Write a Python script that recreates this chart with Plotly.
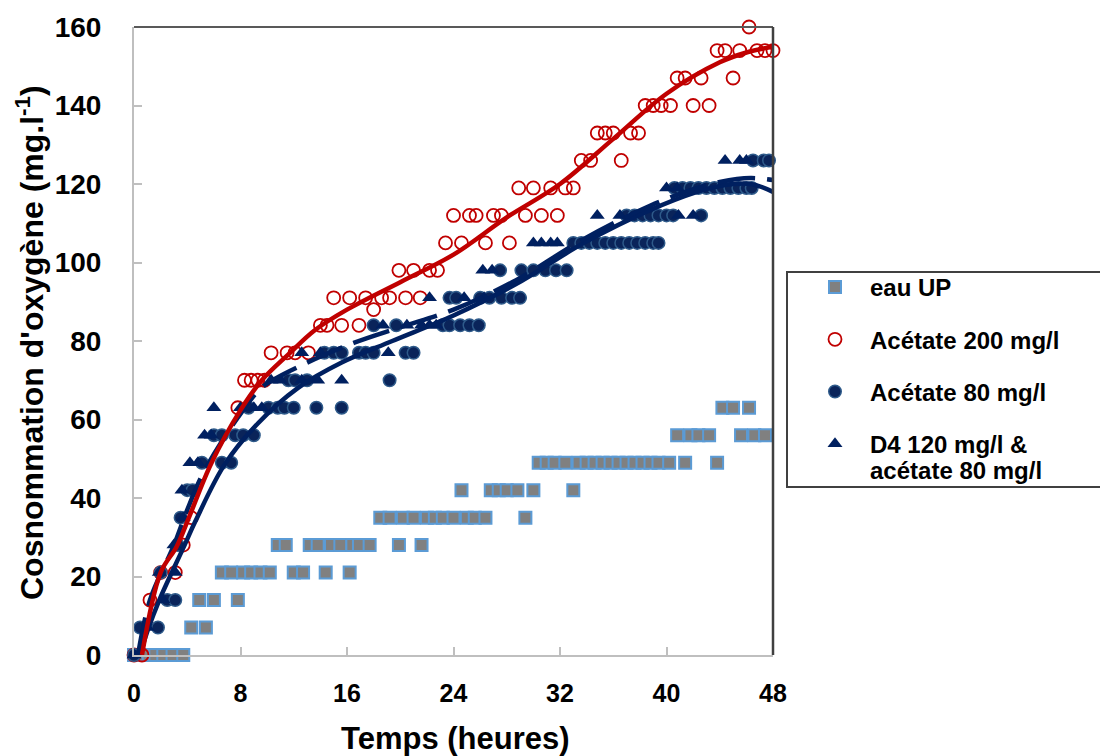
import plotly.graph_objects as go

# ---------------- data ----------------
eau_t = [0, 0.6, 1.1, 1.6, 2.2, 2.9, 3.7,
         4.3, 5.4,
         4.9, 6.0, 7.8,
         6.6, 7.3, 8.2, 8.8, 9.5, 10.2, 12.0, 12.7, 14.4, 16.2,
         10.8, 11.4, 13.2, 13.8, 14.8, 15.5, 16.4, 16.9, 17.7, 19.9, 21.6,
         18.5, 19.2, 20.2, 21.0, 22.0, 22.6, 23.2, 24.0, 25.0, 25.6, 26.4, 29.4,
         24.6, 26.8, 27.4, 28.0, 28.8, 30.0, 33.0,
         30.4, 31.0, 31.6, 32.4, 33.4, 34.0, 34.6, 35.2, 35.8, 36.4, 37.0, 37.6, 38.2, 38.8, 39.4, 40.2, 41.4, 43.8,
         40.8, 41.8, 42.4, 43.2, 45.6, 46.6, 47.4,
         44.2, 45.0, 46.2]
eau_y = [0, 0, 0, 0, 0, 0, 0,
         7, 7,
         14, 14, 14,
         21, 21, 21, 21, 21, 21, 21, 21, 21, 21,
         28, 28, 28, 28, 28, 28, 28, 28, 28, 28, 28,
         35, 35, 35, 35, 35, 35, 35, 35, 35, 35, 35, 35,
         42, 42, 42, 42, 42, 42, 42,
         49, 49, 49, 49, 49, 49, 49, 49, 49, 49, 49, 49, 49, 49, 49, 49, 49, 49,
         56, 56, 56, 56, 56, 56, 56,
         63, 63, 63]

ac200_t = [0, 0.6, 1.2, 2.0, 3.1, 3.7, 4.3, 7.8,
           8.3, 8.8, 9.3, 9.8,
           10.3, 11.5, 12.1, 13.1,
           14.0, 14.5, 15.6, 16.9,
           15.0, 16.2, 17.4, 18.6, 19.2, 20.4, 21.5, 18.0,
           19.9, 21.0, 22.2, 22.8,
           23.4, 24.6, 26.4, 28.2,
           24.0, 25.2, 25.7, 27.0, 27.6, 29.4, 30.6, 31.8,
           28.9, 30.0, 31.3, 32.4, 33.0,
           33.6, 34.3, 36.6,
           34.8, 35.4, 36.0, 37.3, 37.9,
           38.4, 39.0, 39.6, 40.3, 42.0, 43.2,
           40.8, 41.4, 42.6, 45.0,
           43.8, 44.4, 45.5, 46.8, 47.4, 48.0,
           46.2]
ac200_y = [0, 0, 14, 21, 21, 28, 35, 63,
           70, 70, 70, 70,
           77, 77, 77, 77,
           84, 84, 84, 84,
           91, 91, 91, 91, 91, 91, 91, 88,
           98, 98, 98, 98,
           105, 105, 105, 105,
           112, 112, 112, 112, 112, 112, 112, 112,
           119, 119, 119, 119, 119,
           126, 126, 126,
           133, 133, 133, 133, 133,
           140, 140, 140, 140, 140, 140,
           147, 147, 147, 147,
           154, 154, 154, 154, 154, 154,
           160]

ac80_t = [0, 0.45, 1.8, 2.5, 3.1, 2.0, 3.3, 3.5, 4.0, 4.4,
          5.1, 6.6, 7.3,
          6.0, 6.6, 7.6, 8.2, 9.0,
          8.6, 10.1, 10.8, 11.3, 12.0, 13.7, 15.6,
          11.6, 12.1, 13.0, 19.2,
          14.3, 15.0, 15.6, 16.9, 17.4, 18.0, 20.4, 21.0,
          18.0, 19.7, 23.2, 23.7, 24.5, 25.2, 25.9,
          23.7, 24.2, 26.0, 26.7, 27.6, 28.4, 29.0,
          27.5, 29.1, 30.0, 30.9, 31.7, 32.5,
          33.0, 33.6, 34.2, 34.8, 35.4, 36.0, 36.6, 37.2, 37.8, 38.4, 39.0, 39.4,
          37.0, 37.6, 38.2, 38.8, 39.4, 40.0, 40.5, 42.6,
          40.6, 41.2, 41.8, 42.4, 43.0, 43.6, 44.2, 44.8, 45.4, 46.0, 46.4,
          46.5, 47.3, 47.7]
ac80_y = [0, 7, 7, 14, 14, 21, 28, 35, 42, 42,
          49, 49, 49,
          56, 56, 56, 56, 56,
          63, 63, 63, 63, 63, 63, 63,
          70, 70, 70, 70,
          77, 77, 77, 77, 77, 77, 77, 77,
          84, 84, 84, 84, 84, 84, 84,
          91, 91, 91, 91, 91, 91, 91,
          98, 98, 98, 98, 98, 98,
          105, 105, 105, 105, 105, 105, 105, 105, 105, 105, 105, 105,
          112, 112, 112, 112, 112, 112, 112, 112,
          119, 119, 119, 119, 119, 119, 119, 119, 119, 119, 119,
          126, 126, 126]

d4_t = [0, 1.0, 2.2, 1.9, 3.1, 3.0, 3.7, 3.6, 4.2, 4.8,
        5.3, 5.8, 6.0, 8.0, 9.0, 9.6,
        10.3, 11.0, 12.6, 13.8, 15.6,
        12.6, 14.0, 19.1,
        18.7, 20.5, 21.6, 22.2, 22.7,
        22.2, 24.8, 26.3,
        26.2, 26.9,
        30.0, 30.6, 31.3, 31.8,
        34.8, 36.5, 40.9, 42.0,
        40.0, 40.8,
        44.4, 45.5, 46.0]
d4_y = [0, 7, 14, 21, 21, 28, 35, 42, 49, 49,
        56, 56, 63, 63, 63, 63,
        70, 70, 70, 70, 70,
        77, 77, 77,
        84, 84, 84, 84, 84,
        91, 91, 91,
        98, 98,
        105, 105, 105, 105,
        112, 112, 112, 112,
        119, 119,
        126, 126, 126]

# fitted curves
fit200_t = [0.6, 2.0, 3.2, 4.1, 5.8, 8.0, 9.6, 11.6, 13.6, 16, 20, 24, 28, 32, 36, 40, 44, 46, 48]
fit200_y = [0, 21, 27.6, 34.8, 48.8, 62.4, 70, 76.6, 82.8, 88, 95, 102, 111.5, 120, 131.5, 143, 151, 153.5, 155]

fit80_t = [0.45, 1.0, 1.9, 3.8, 4.6, 6.8, 9.3, 12.3, 15.6, 19.4, 24, 28.7, 33.8, 38.8, 42.3, 44, 46.3, 48]
fit80_y = [0, 6, 14, 28, 34, 48.5, 59, 68, 74.5, 80, 86.5, 94.5, 105, 113.4, 118, 119.5, 120, 118]

fitd4_t = [0.3, 1.2, 3.0, 4.0, 5.3, 8.2, 9.7, 12.7, 16.5, 20, 24, 28.7, 33.8, 38.8, 42.3, 44, 46.3, 48]
fitd4_y = [0, 14, 28, 37, 47, 62.4, 68.4, 74, 79.5, 83.5, 88, 95.5, 106, 114.5, 119, 120.5, 121.5, 121]

x_ticks = [0, 8, 16, 24, 32, 40, 48]
y_ticks = [0, 20, 40, 60, 80, 100, 120, 140, 160]

names = ["eau UP", "Acétate 200 mg/l", "Acétate 80 mg/l", "D4 120 mg/l &"]
name_d4_line2 = "acétate 80 mg/l"
x_title = "Temps (heures)"
y_title = "Cosnommation d'oxygène (mg.l<sup>-1</sup>)"

RED = "#c00000"
NAVY = "#002060"
FONT = "Liberation Sans, Arial, sans-serif"

# ---------------- figure ----------------
fig = go.Figure()

fig.add_trace(go.Scatter(
    x=eau_t, y=eau_y, mode="markers", name=names[0], legendgroup="a",
    marker=dict(symbol="square", size=12, color="#808080", line=dict(color="#5b9bd5", width=2)),
    cliponaxis=False))
fig.add_trace(go.Scatter(
    x=ac200_t, y=ac200_y, mode="markers", name=names[1], legendgroup="b",
    marker=dict(symbol="circle-open", size=13, color=RED, line=dict(color=RED, width=1.8)),
    cliponaxis=False))
fig.add_trace(go.Scatter(
    x=ac80_t, y=ac80_y, mode="markers", name=names[2], legendgroup="c",
    marker=dict(symbol="circle", size=12.5, color="#0a245a", line=dict(color="#2e5a8a", width=1.5)),
    cliponaxis=False))
fig.add_trace(go.Scatter(
    x=d4_t, y=d4_y, mode="markers", name=names[3], legendgroup="d",
    marker=dict(symbol="triangle-up", size=13, color=NAVY, line=dict(width=0)),
    cliponaxis=False))

fig.add_trace(go.Scatter(
    x=fit80_t, y=fit80_y, mode="lines", showlegend=False,
    line=dict(color=NAVY, width=4.5, shape="spline", smoothing=1.0), cliponaxis=False))
fig.add_trace(go.Scatter(
    x=fitd4_t, y=fitd4_y, mode="lines", showlegend=False,
    line=dict(color=NAVY, width=4.5, shape="spline", smoothing=1.0, dash="38px,12px"), cliponaxis=False))
fig.add_trace(go.Scatter(
    x=fit200_t, y=fit200_y, mode="lines", showlegend=False,
    line=dict(color=RED, width=4.5, shape="spline", smoothing=1.0), cliponaxis=False))

L, R, T, B = 134, 327, 27, 101
W, H = 1100, 756
pw, ph = W - L - R, H - T - B


def px2x(p):
    return (p - L) / pw


def py2y(p):
    return (H - B - p) / ph


fig.update_layout(
    width=W, height=H,
    margin=dict(l=L, r=R, t=T, b=B, pad=0, autoexpand=False),
    paper_bgcolor="white", plot_bgcolor="white",
    font=dict(family=FONT, color="black"),
    showlegend=True,
    legend=dict(
        x=px2x(800), y=py2y(265), xanchor="left", yanchor="top",
        xref="paper", yref="paper",
        bgcolor="rgba(0,0,0,0)", borderwidth=0,
        font=dict(size=24, family=FONT, color="black", weight="bold"),
        itemwidth=60, tracegroupgap=18, traceorder="grouped",
    ),
    xaxis=dict(
        range=[0, 48], tickvals=x_ticks, ticktext=[str(v) for v in x_ticks],
        showline=True, linecolor="#bfbfbf", linewidth=2,
        ticks="inside", ticklen=8, tickwidth=2, tickcolor="#bfbfbf",
        showgrid=False, zeroline=False, ticklabelstandoff=15, automargin=False,
        tickfont=dict(size=25, family=FONT, weight="bold"),
    ),
    yaxis=dict(
        range=[0, 160], tickvals=y_ticks, ticktext=[str(v) for v in y_ticks],
        showline=True, linecolor="#bfbfbf", linewidth=2,
        ticks="inside", ticklen=8, tickwidth=2, tickcolor="#bfbfbf",
        showgrid=False, zeroline=False, ticklabelstandoff=25, automargin=False,
        tickfont=dict(size=28, family=FONT, weight="bold"),
    ),
    shapes=[
        dict(type="line", xref="paper", yref="paper", x0=0, x1=1, y0=1, y1=1,
             line=dict(color="#595959", width=2)),
        dict(type="line", xref="paper", yref="paper", x0=1, x1=1, y0=0, y1=1,
             line=dict(color="#404040", width=2.5)),
        dict(type="rect", xref="paper", yref="paper",
             x0=px2x(787), x1=px2x(1120), y0=py2y(487), y1=py2y(272),
             line=dict(color="#404040", width=2), fillcolor="rgba(0,0,0,0)"),
    ],
    annotations=[
        dict(text=y_title, textangle=-90,
             xref="paper", yref="paper", x=px2x(30), y=py2y(343),
             xanchor="center", yanchor="middle", showarrow=False,
             font=dict(size=32, weight="bold", family=FONT)),
        dict(text=x_title,
             xref="paper", yref="paper", x=px2x(455), y=py2y(738),
             xanchor="center", yanchor="middle", showarrow=False,
             font=dict(size=31, weight="bold", family=FONT)),
        dict(text=name_d4_line2,
             xref="paper", yref="paper", x=px2x(868), y=py2y(470),
             xanchor="left", yanchor="middle", showarrow=False,
             font=dict(size=24, weight="bold", family=FONT)),
    ],
)

fig.write_html("out.html", config={"displayModeBar": False},
               post_script="document.body.style.margin='0px';document.body.style.overflow='hidden';")
